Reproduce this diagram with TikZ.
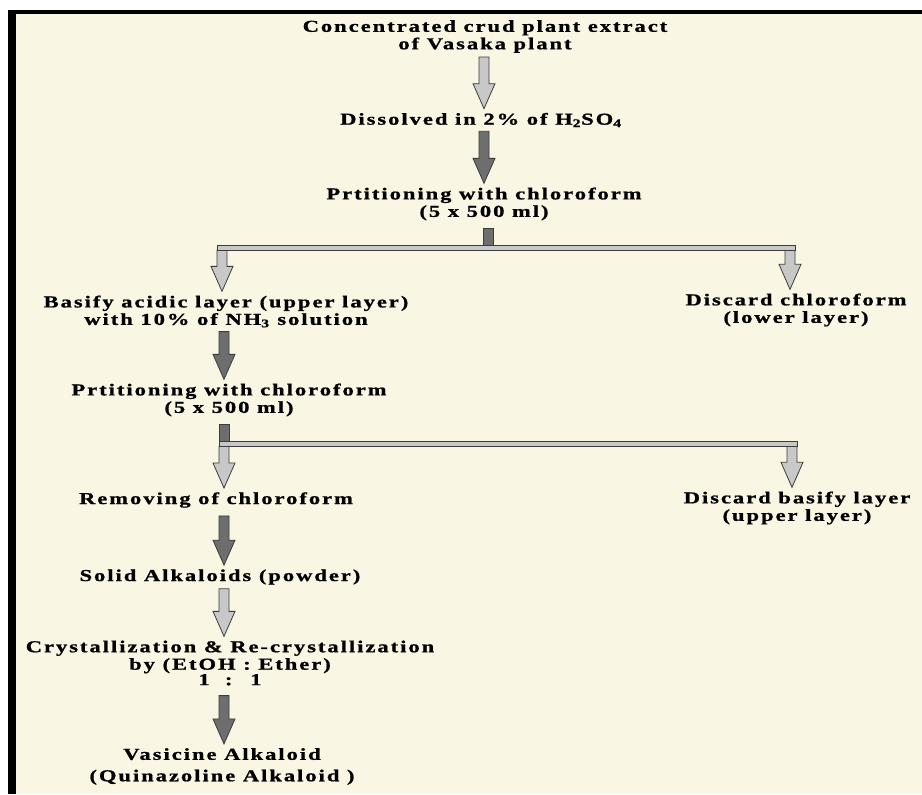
\documentclass[tikz,border=0pt]{standalone}
\usepackage{fontspec}
\setmainfont{Liberation Serif}[FakeStretch=1.35,LetterSpace=12,FakeBold=1]
\usetikzlibrary{calc,positioning}
\definecolor{paper}{RGB}{250,246,228}
\definecolor{lightgrey}{RGB}{200,200,200}
\definecolor{darkgrey}{RGB}{110,110,110}
\definecolor{edgegrey}{RGB}{60,60,60}
\tikzset{
  stage/.style={align=center,inner sep=3pt,font=\fontsize{12.5pt}{13.1pt}\selectfont\bfseries},
  lightarrow/.style={fill=lightgrey,draw=edgegrey,line width=0.6pt},
  darkarrow/.style={fill=darkgrey,draw=edgegrey,line width=0.6pt},
  splitbar/.style={fill=lightgrey,draw=edgegrey,line width=0.6pt}
}
\newcommand{\flowarrow}[3]{%
  \draw[#1] let \p1=(#2), \p2=(#3) in
    (\x1-3.75pt,\y1) -- (\x1+3.75pt,\y1) -- (\x1+3.75pt,\y2+18.75pt)
    -- (\x1+8.25pt,\y2+18.75pt) -- (\x1,\y2) -- (\x1-8.25pt,\y2+18.75pt)
    -- (\x1-3.75pt,\y2+18.75pt) -- cycle;}

\begin{document}
\begin{tikzpicture}[x=0.75pt,y=-0.75pt]
    \useasboundingbox (0,0) rectangle (922,794);
    \fill[white] (0,0) rectangle (922,794);
    \fill[paper] (16,14) rectangle (922,794);
    \fill[black] (8,10) rectangle (16,794);
    \fill[black] (8,10) rectangle (922,14);

    \coordinate (colM) at (484,0);
    \coordinate (colL) at (224,0);
    \coordinate (j1L) at (222,247.5);
    \coordinate (j1M) at (488,247.5);
    \coordinate (j1R) at (790,247.5);
    \coordinate (j2L) at (224,443.5);
    \coordinate (j2R) at (792,443.5);

    \node[stage] (crude) at (485,36.5) {Concentrated crud plant extract\\of Vasaka plant};
    \node[stage] (acid) at (481,120) {Dissolved in 2\% of H\textsubscript{2}SO\textsubscript{4}};
    \node[stage] (part1) at (484,204) {Prtitioning with chloroform\\(5 x 500 ml)};
    \node[stage] (basify) at (226,311.5) {Basify acidic layer (upper layer)\\with 10\% of NH\textsubscript{3} solution};
    \node[stage] (discard1) at (796,310) {Discard chloroform\\(lower layer)};
    \node[stage] (part2) at (229,400) {Prtitioning with chloroform\\(5 x 500 ml)};
    \node[stage] (remove) at (216,500) {Removing of chloroform};
    \node[stage] (discard2) at (797,508) {Discard basify layer\\(upper layer)};
    \node[stage] (solid) at (220,577) {Solid Alkaloids (powder)};
    \node[stage] (cryst) at (230,663) {Crystallization \& Re-crystallization\\by (EtOH : Ether)\\[-1.5pt]1 \ : \ 1};
    \node[stage] (vasicine) at (222,766.5) {Vasicine Alkaloid\\[3pt](Quinazoline Alkaloid )};

    \flowarrow{lightarrow}{colM |- crude.south}{colM |- acid.north}
    \flowarrow{darkarrow}{colM |- acid.south}{colM |- part1.north}
    \draw[darkarrow] ($(part1.south -| j1M)+(-5,4)$) rectangle ($(j1M)+(5,-2.5)$);
    \flowarrow{lightarrow}{$(j1L)+(0,2.5)$}{j1L |- basify.north}
    \flowarrow{lightarrow}{$(j1R)+(0,2.5)$}{j1R |- discard1.north}
    \draw[splitbar] ($(j1L)+(-5,-2.5)$) rectangle ($(j1R)+(5.5,2.5)$);
    \flowarrow{darkarrow}{colL |- basify.south}{colL |- part2.north}
    \draw[darkarrow] ($(part2.south -| j2L)+(-5,4)$) rectangle ($(j2L)+(5,-2.5)$);
    \flowarrow{lightarrow}{$(j2L)+(0,2.5)$}{j2L |- remove.north}
    \flowarrow{lightarrow}{$(j2R)+(0,2.5)$}{j2R |- discard2.north}
    \draw[splitbar] ($(j2L)+(-5,-2.5)$) rectangle ($(j2R)+(5.5,2.5)$);
    \flowarrow{darkarrow}{$(colL |- remove.south)+(0,4)$}{colL |- solid.north}
    \flowarrow{lightarrow}{colL |- solid.south}{colL |- cryst.north}
    \flowarrow{darkarrow}{$(colL |- cryst.south)+(0,6)$}{colL |- vasicine.north}
\end{tikzpicture}
\end{document}
